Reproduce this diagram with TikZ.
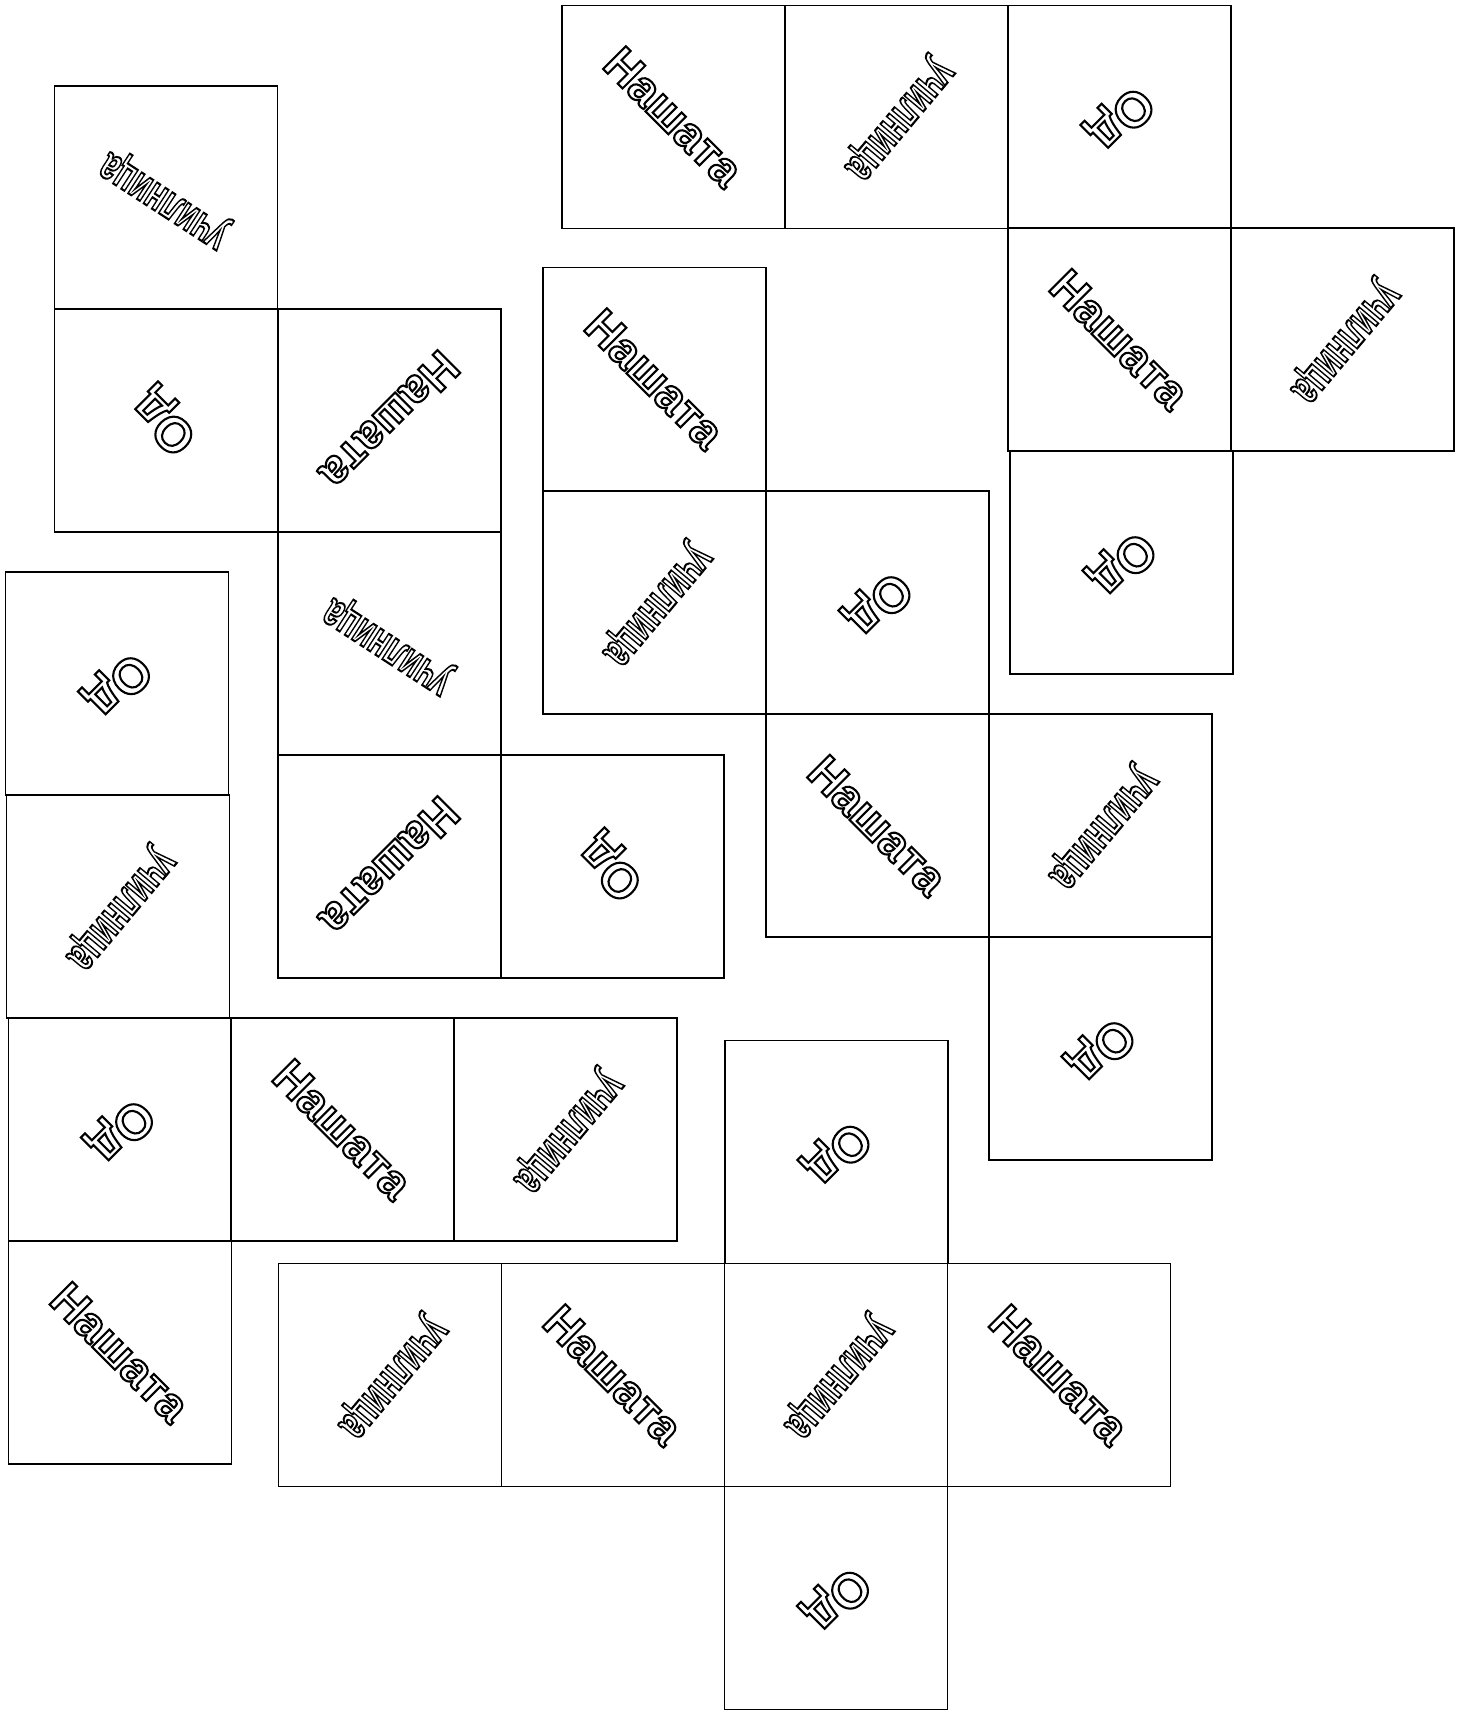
\documentclass[tikz,border=0pt]{standalone}
\usepackage{fontspec}
\setmainfont{Liberation Sans}
\newfontfamily\wordfont{Liberation Sans Bold}
\usepackage{graphicx}
\newcommand\outl[1]{\special{pdf:literal direct 1 Tr 0.6 w}#1\special{pdf:literal direct 0 Tr}}
\newcommand\wNas{\outl{Нашата}}
\newcommand\wUch{\outl{\scalebox{0.64}[1]{училница}}}
\newcommand\wOd{{\fontsize{14}{16}\selectfont\outl{Од}}}
\tikzset{
  face/.style={line width=.45pt},
  word/.style={inner sep=0pt,font=\wordfont\fontsize{13.3}{15}\selectfont}
}
\begin{document}
\begin{tikzpicture}[x=.01cm,y=-.01cm]
        \useasboundingbox (0,0) rectangle (1465,1712);
        \draw[face] (562,5.5) rectangle node[word,rotate=-45] (a1) {\wNas} ++(223,223);
        \draw[face] (785,5.5) rectangle node[word,rotate=230] (a2) {\wUch} ++(223,223);
        \draw[face] (1008,5.5) rectangle node[word,rotate=225] (a3) {\wOd} ++(223,223);
        \draw[face] (1008,228) rectangle node[word,rotate=-45] (a4) {\wNas} ++(223,223);
        \draw[face] (1231,228) rectangle node[word,rotate=230] (a5) {\wUch} ++(223,223);
        \draw[face] (1010,451) rectangle node[word,rotate=225] (a6) {\wOd} ++(223,223);
        \draw[face] (54.5,86) rectangle node[word,rotate=147] (b1) {\wUch} ++(223,223);
        \draw[face] (54.5,309) rectangle node[word,rotate=135] (b2) {\wOd} ++(223,223);
        \draw[face] (278,309) rectangle node[word,rotate=225] (b3) {\wNas} ++(223,223);
        \draw[face] (278,532) rectangle node[word,rotate=147] (b4) {\wUch} ++(223,223);
        \draw[face] (278,755) rectangle node[word,rotate=225] (b5) {\wNas} ++(223,223);
        \draw[face] (501,755) rectangle node[word,rotate=135] (b6) {\wOd} ++(223,223);
        \draw[face] (543,267.5) rectangle node[word,rotate=-45] (c1) {\wNas} ++(223,223);
        \draw[face] (543,491) rectangle node[word,rotate=230] (c2) {\wUch} ++(223,223);
        \draw[face] (766,491) rectangle node[word,rotate=225] (c3) {\wOd} ++(223,223);
        \draw[face] (766,714) rectangle node[word,rotate=-45] (c4) {\wNas} ++(223,223);
        \draw[face] (989,714) rectangle node[word,rotate=230] (c5) {\wUch} ++(223,223);
        \draw[face] (989,937) rectangle node[word,rotate=225] (c6) {\wOd} ++(223,223);
        \draw[face] (5.5,572) rectangle node[word,rotate=225] (d1) {\wOd} ++(223,223);
        \draw[face] (6.5,795) rectangle node[word,rotate=230] (d2) {\wUch} ++(223,223);
        \draw[face] (8.5,1018) rectangle node[word,rotate=225] (d3) {\wOd} ++(223,223);
        \draw[face] (231,1018) rectangle node[word,rotate=-45] (d4) {\wNas} ++(223,223);
        \draw[face] (454,1018) rectangle node[word,rotate=230] (d5) {\wUch} ++(223,223);
        \draw[face] (8.5,1241) rectangle node[word,rotate=-45] (d6) {\wNas} ++(223,223);
        \draw[face] (725,1040.5) rectangle node[word,rotate=225] (e1) {\wOd} ++(223,223);
        \draw[face] (278.5,1263.5) rectangle node[word,rotate=230] (e2) {\wUch} ++(223,223);
        \draw[face] (501.5,1263.5) rectangle node[word,rotate=-45] (e3) {\wNas} ++(223,223);
        \draw[face] (724.5,1263.5) rectangle node[word,rotate=230] (e4) {\wUch} ++(223,223);
        \draw[face] (947.5,1263.5) rectangle node[word,rotate=-45] (e5) {\wNas} ++(223,223);
        \draw[face] (724.5,1486.5) rectangle node[word,rotate=225] (e6) {\wOd} ++(223,223);
      \end{tikzpicture}
\end{document}
